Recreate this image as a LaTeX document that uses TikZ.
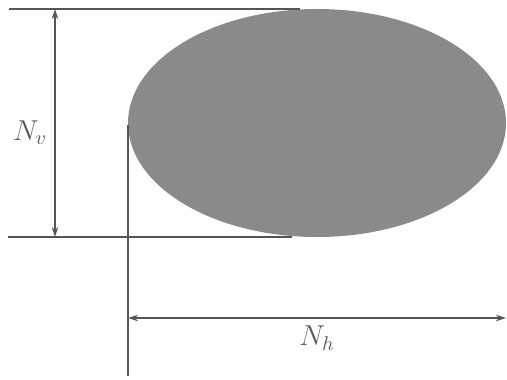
\documentclass[tikz,border=0pt]{standalone}
\usepackage{tikz}
\usepackage{xcolor}
\usetikzlibrary{arrows.meta}
\definecolor{blobgray}{RGB}{138,138,138}
\definecolor{linegray}{RGB}{85,85,85}
\definecolor{textgray}{RGB}{90,90,90}

\begin{document}
\begin{tikzpicture}[
    x=0.5pt, y=-0.5pt,
    >={Stealth[length=5pt, width=3.2pt]},
    dimline/.style={linegray, line width=0.9pt},
    dimlabel/.style={text=textgray, font=\Large}
]

% Canvas (pixel grid of the reference)
\useasboundingbox (0,0) rectangle (507,379);

% Ellipse cross-section
\fill[blobgray] (317,123) ellipse [x radius=189, y radius=114];

% Reference points
\coordinate (topL) at (9,9);
\coordinate (topR) at (300,9);
\coordinate (botL) at (8,237);
\coordinate (botR) at (292,237);
\coordinate (vTop) at (55,9);
\coordinate (vBot) at (55,237);
\coordinate (legTop) at (128,125);
\coordinate (legBot) at (128,376);
\coordinate (hL) at (128,318);
\coordinate (hR) at (506,318);

% Extension lines
\draw[dimline] (topL) -- (topR);
\draw[dimline] (botL) -- (botR);
\draw[dimline] (legTop) -- (legBot);

% Dimension arrows
\draw[dimline, <->] (vTop) -- (vBot);
\draw[dimline, <->] (hL) -- (hR);

% Labels
\node[dimlabel] (nv) at (30,133) {$N_v$};
\node[dimlabel] (nh) at (317,338) {$N_h$};

\end{tikzpicture}
\end{document}
